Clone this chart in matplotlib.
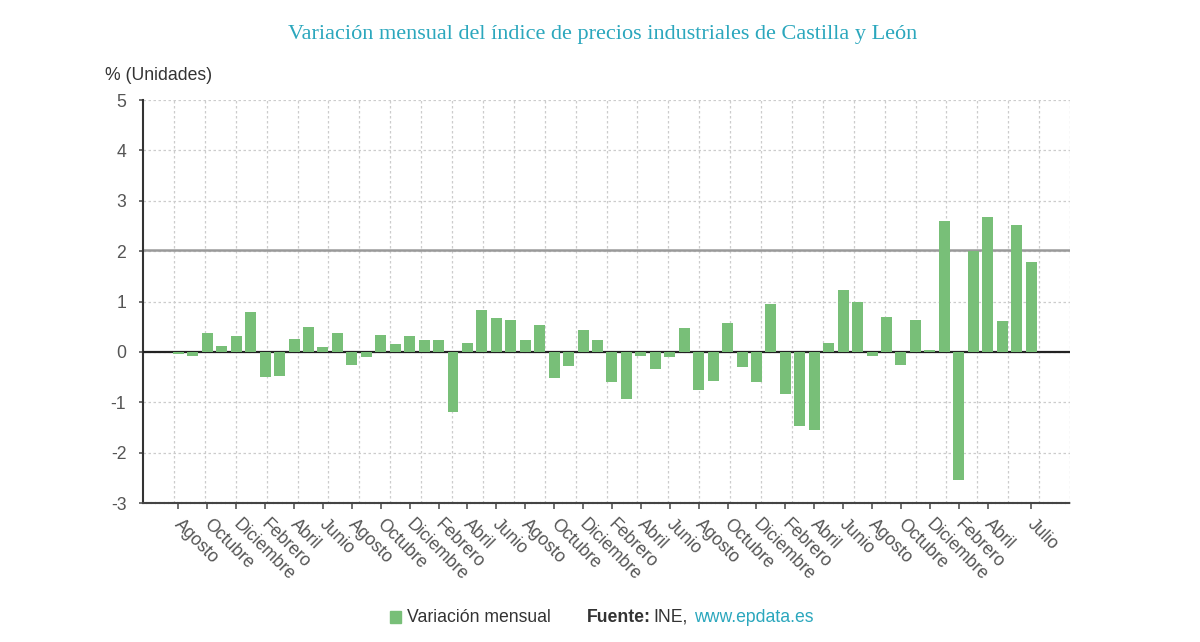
import numpy as np
import matplotlib
matplotlib.use('Agg')
import matplotlib.pyplot as plt
import matplotlib.transforms as mtransforms
from matplotlib.patches import Rectangle

# Monthly variation (%), August to July, 60 months
months = ['Agosto', 'Septiembre', 'Octubre', 'Noviembre', 'Diciembre', 'Enero',
          'Febrero', 'Marzo', 'Abril', 'Mayo', 'Junio', 'Julio'] * 5
values = [-0.05, -0.09, 0.37, 0.11, 0.32, 0.79, -0.50, -0.47, 0.26, 0.50, 0.10, 0.38,
          -0.26, -0.10, 0.33, 0.15, 0.32, 0.23, 0.23, -1.20, 0.18, 0.84, 0.67, 0.63,
          0.23, 0.53, -0.51, -0.28, 0.44, 0.23, -0.59, -0.94, -0.08, -0.33, -0.10, 0.48,
          -0.75, -0.57, 0.57, -0.30, -0.59, 0.96, -0.83, -1.48, -1.56, 0.17, 1.23, 1.00,
          -0.08, 0.70, -0.26, 0.63, 0.04, 2.59, -2.54, 2.01, 2.67, 0.61, 2.52, 1.78]
ref_line = 2.03

# labelled ticks: every other month, plus the last one
tick_idx = list(range(0, 57, 2)) + [59]

plt.rcParams['font.family'] = ['Liberation Sans', 'DejaVu Sans']
plt.rcParams['axes.unicode_minus'] = False

fs = 12.7
fig = plt.figure(figsize=(12, 6.42), dpi=100)
ax = fig.add_axes([0.1192, 0.2165, 0.7725, 0.6277])

x = np.arange(len(values))
x0, x1 = -2.45, 61.7
ax.set_xlim(x0, x1)
ax.set_ylim(-3, 5)

# grid
for yv in range(-3, 6):
    ax.axhline(yv, color='#cccccc', lw=0.9, ls=(0, (2, 2)), zorder=0)
for i in range(1, 31):
    ax.axvline(x0 + i * (x1 - x0) / 30, color='#cccccc', lw=0.9, ls=(0, (2, 2)), zorder=0)

ax.bar(x, values, width=0.76, color='#78bf78', zorder=4)
ax.axhline(0, color='#222222', lw=1.6, zorder=3)
ax.axhline(ref_line, color='#9a9a9a', lw=1.8, zorder=1)

ax.set_yticks(range(-3, 6))
ax.set_xticks(tick_idx)
ax.set_xticklabels([months[i] for i in tick_idx], rotation=-45, ha='left', va='top',
                   rotation_mode='anchor')
ax.tick_params(axis='both', labelsize=fs, colors='#555555', length=4, width=1.2)
ax.tick_params(axis='x', pad=5)
ax.tick_params(axis='y', length=3, pad=9)

# nudge the rotated month labels a little to the right
shift = mtransforms.ScaledTranslation(5 / 100, 0, fig.dpi_scale_trans)
for lbl in ax.get_xticklabels():
    lbl.set_transform(lbl.get_transform() + shift)

for s in ['top', 'right']:
    ax.spines[s].set_visible(False)
ax.spines['left'].set_color('#333333')
ax.spines['left'].set_linewidth(1.5)
ax.spines['bottom'].set_color('#444444')
ax.spines['bottom'].set_linewidth(1.5)
ax.spines['bottom'].set_linestyle((0, (1.5, 0.6)))

fig.text(0.5025, 0.947, 'Variación mensual del índice de precios industriales de Castilla y León',
         ha='center', va='center', fontsize=16, color='#2ba7bd', family='Liberation Serif')
fig.text(0.0875, 0.882, '% (Unidades)', ha='left', va='center', fontsize=fs, color='#333333')

# legend / source at bottom
ytxt = 1 - 617 / 642
fig.patches.append(Rectangle((390 / 1200, 1 - 623 / 642), 11 / 1200, 12 / 642,
                             transform=fig.transFigure, color='#78bf78'))
fig.text(407 / 1200, ytxt, 'Variación mensual', ha='left', va='center',
         fontsize=fs, color='#333333')
fig.text(587 / 1200, ytxt, 'Fuente:', ha='left', va='center',
         fontsize=fs, color='#333333', fontweight='bold')
fig.text(653 / 1200, ytxt, 'INE,', ha='left', va='center',
         fontsize=fs, color='#333333')
fig.text(694 / 1200, ytxt, 'www.epdata.es', ha='left', va='center',
         fontsize=fs, color='#2ba7bd')

fig.savefig('out.png', dpi=100)
